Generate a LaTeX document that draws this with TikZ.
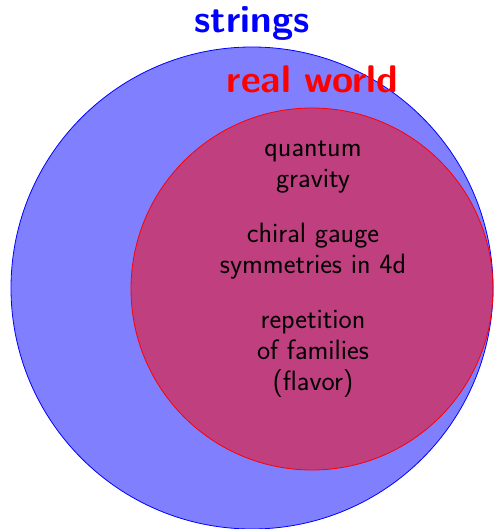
\documentclass[tikz,border=0pt]{standalone}
\usepackage{fontspec}
\begin{document}
\begin{tikzpicture}[x=1pt,y=-1pt,line width=0.8pt,
		title/.style={font=\fontsize{38.5}{46}\selectfont\sffamily\bfseries,anchor=base,inner sep=0pt},
		item/.style={font=\fontsize{28}{31}\selectfont\sffamily,align=center,anchor=base,inner sep=0pt}]
	\useasboundingbox (0,0) rectangle (493,529);
	\def\rbig{241}
	\def\rsmall{181}
	\coordinate (cstr) at (252,288);
	\coordinate (creal) at (312,289);
	\draw[blue,fill=blue!50] (cstr) circle (\rbig);
	\draw[red,fill=red,fill opacity=0.5] (creal) circle (\rsmall);
	\node[title,blue] (strings) at (252,33) {strings};
	\node[title,red] (real) at (312.5,93) {real world};
	\node[item] (qg) at (313,188) {quantum\\gravity};
	\node[item] (chiral) at (313,273) {chiral gauge\\symmetries in 4d};
	\node[item] (flavor) at (313,390) {repetition\\of families\\(flavor)};
\end{tikzpicture}
\end{document}
